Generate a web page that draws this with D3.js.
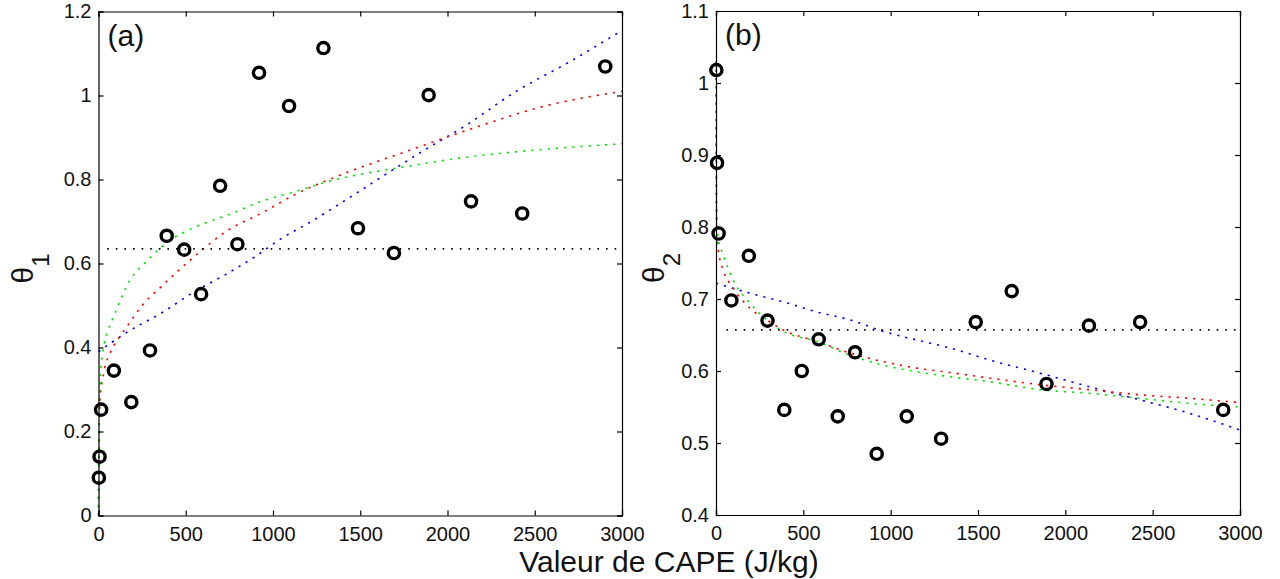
<!DOCTYPE html>
<html>
<head>
<meta charset="utf-8">
<script src="https://cdn.jsdelivr.net/npm/d3@7"></script>
<style>
  body { margin: 0; background: #fff; }
  svg { display: block; font-family: "Liberation Sans", Arial, sans-serif; }
  .axis path, .axis line { stroke: #000; stroke-width: 1.2; }
  .axis text { font-size: 20px; fill: #111; }
</style>
</head>
<body>
<div data-viz="wrapper"></div>
<script>
// CAPE values (J/kg) shared by both panels
const capeValues = [2, 6, 15, 88, 188, 295, 391, 491, 588, 697, 796, 920, 1092, 1289, 1487, 1693, 1892, 2135, 2428, 2904]
const theta1Values = [0.09, 0.14, 0.252, 0.345, 0.27, 0.393, 0.666, 0.633, 0.527, 0.785, 0.646, 1.054, 0.975, 1.113, 0.684, 0.625, 1.001, 0.748, 0.719, 1.069]
const theta2Values = [1.018, 0.889, 0.791, 0.698, 0.760, 0.670, 0.546, 0.600, 0.644, 0.537, 0.626, 0.485, 0.537, 0.506, 0.668, 0.711, 0.582, 0.663, 0.668, 0.546]

const xTicks = [0, 500, 1000, 1500, 2000, 2500, 3000]
const theta1Ticks = [0, 0.2, 0.4, 0.6, 0.8, 1, 1.2]
const theta2Ticks = [0.4, 0.5, 0.6, 0.7, 0.8, 0.9, 1, 1.1]

// fitted curves, [CAPE, theta]
const theta1Blue = [[0, 0.39], [170, 0.438], [360, 0.482], [550, 0.533], [725, 0.573], [900, 0.617], [1050, 0.66], [1220, 0.7], [1390, 0.744], [1600, 0.8], [1860, 0.868], [2110, 0.93], [2375, 1.005], [2720, 1.085], [3000, 1.155]]
const theta1Red = [[0, 0], [3, 0.2], [10, 0.28], [30, 0.34], [70, 0.39], [130, 0.43], [180, 0.46], [250, 0.5], [360, 0.545], [550, 0.617], [745, 0.68], [935, 0.72], [1125, 0.764], [1400, 0.813], [1765, 0.867], [2145, 0.922], [2530, 0.972], [3000, 1.01]]
const theta1Green = [[0, 0], [3, 0.22], [10, 0.32], [25, 0.39], [55, 0.44], [95, 0.482], [170, 0.553], [285, 0.609], [400, 0.652], [550, 0.686], [745, 0.716], [935, 0.748], [1125, 0.771], [1315, 0.795], [1765, 0.831], [2145, 0.855], [2530, 0.871], [3000, 0.885]]

const theta2Blue = [[0, 0.722], [195, 0.708], [385, 0.696], [577, 0.682], [767, 0.671], [958, 0.655], [1150, 0.643], [1340, 0.632], [1570, 0.615], [1855, 0.597], [2140, 0.578], [2427, 0.56], [2714, 0.541], [3000, 0.518]]
const theta2Red = [[0, 1.03], [2, 0.86], [5, 0.79], [15, 0.765], [42, 0.74], [99, 0.715], [195, 0.687], [290, 0.671], [385, 0.657], [577, 0.641], [767, 0.625], [958, 0.613], [1150, 0.604], [1340, 0.598], [1570, 0.59], [1855, 0.581], [2140, 0.574], [2427, 0.567], [2714, 0.562], [3000, 0.556]]
const theta2Green = [[0, 0.95], [3, 0.83], [13, 0.784], [42, 0.761], [99, 0.726], [195, 0.694], [290, 0.671], [385, 0.655], [577, 0.641], [767, 0.622], [958, 0.608], [1150, 0.599], [1340, 0.592], [1570, 0.585], [1855, 0.574], [2140, 0.569], [2427, 0.562], [2714, 0.555], [3000, 0.55]]

// mean levels (dotted black)
const theta1Mean = [[50, 0.635], [3000, 0.635]]
const theta2Mean = [[60, 0.657], [3000, 0.657]]

const dimensions = { width: 1280, height: 579 }

const panels = [
  { left: 98.5, top: 11.5, width: 523.5, height: 504, domain: [0, 1.2], ticks: theta1Ticks,
    values: theta1Values, curves: [theta1Blue, theta1Red, theta1Green], mean: theta1Mean,
    tag: "(a)", sub: "1", labelX: 33 },
  { left: 716, top: 11, width: 524, height: 504, domain: [0.4, 1.1], ticks: theta2Ticks,
    values: theta2Values, curves: [theta2Blue, theta2Red, theta2Green], mean: theta2Mean,
    tag: "(b)", sub: "2", labelX: 664 },
]
const curveColors = ["#0000ff", "#ff0000", "#00e600"]

const svg = d3.select("[data-viz='wrapper']").append("svg")
    .attr("width", dimensions.width)
    .attr("height", dimensions.height)

const fmt = d3.format("~g")

panels.forEach(p => {
  const xScale = d3.scaleLinear().domain([0, 3000]).range([0, p.width])
  const yScale = d3.scaleLinear().domain(p.domain).range([p.height, 0])

  const bounds = svg.append("g")
      .attr("transform", `translate(${p.left},${p.top})`)

  // **************************
  // Fitted curves
  // **************************
  const lineGenerator = d3.line()
      .x(d => xScale(d[0]))
      .y(d => yScale(d[1]))
      .curve(d3.curveMonotoneX)

  p.curves.forEach((c, i) => {
    bounds.append("path")
        .attr("d", lineGenerator(c))
        .attr("fill", "none")
        .attr("stroke", curveColors[i])
        .attr("stroke-width", 1.6)
        .attr("stroke-dasharray", "2.2,6")
  })

  bounds.append("path")
      .attr("d", lineGenerator(p.mean))
      .attr("fill", "none")
      .attr("stroke", "#000")
      .attr("stroke-width", 1.8)
      .attr("stroke-dasharray", "1.6,7")

  // **************************
  // Data points
  // **************************
  bounds.selectAll("circle")
    .data(capeValues.map((x, i) => [x, p.values[i]]))
    .join("circle")
      .attr("cx", d => xScale(d[0]))
      .attr("cy", d => yScale(d[1]))
      .attr("r", 5.6)
      .attr("fill", "none")
      .attr("stroke", "#000")
      .attr("stroke-width", 3.4)

  // **************************
  // Axes box with inward ticks
  // **************************
  bounds.append("g").attr("class", "axis")
      .attr("transform", `translate(0,${p.height})`)
      .call(d3.axisBottom(xScale).tickValues(xTicks).tickSize(-5).tickPadding(11).tickFormat(fmt))
  bounds.append("g").attr("class", "axis")
      .call(d3.axisTop(xScale).tickValues(xTicks).tickSize(-5).tickFormat(""))
  bounds.append("g").attr("class", "axis")
      .call(d3.axisLeft(yScale).tickValues(p.ticks).tickSize(-5).tickPadding(7).tickFormat(fmt))
  bounds.append("g").attr("class", "axis")
      .attr("transform", `translate(${p.width},0)`)
      .call(d3.axisRight(yScale).tickValues(p.ticks).tickSize(-5).tickFormat(""))

  bounds.selectAll(".axis .domain").attr("stroke-width", 1.4)

  bounds.append("text")
      .attr("x", 9)
      .attr("y", 34)
      .attr("font-size", 30)
      .attr("fill", "#111")
      .text(p.tag)

  // y label: theta with subscript
  const yLabel = svg.append("text")
      .attr("transform", `translate(${p.labelX},${p.top + p.height / 2 + 5}) rotate(-90)`)
      .attr("text-anchor", "middle")
      .attr("font-size", 30)
      .attr("fill", "#111")
  yLabel.append("tspan").text("θ")
  yLabel.append("tspan").attr("font-size", 24).attr("dy", 16).text(p.sub)
})

svg.append("text")
    .attr("x", 669)
    .attr("y", 572)
    .attr("text-anchor", "middle")
    .attr("font-size", 30)
    .attr("fill", "#111")
    .text("Valeur de CAPE (J/kg)")
</script>
</body>
</html>
